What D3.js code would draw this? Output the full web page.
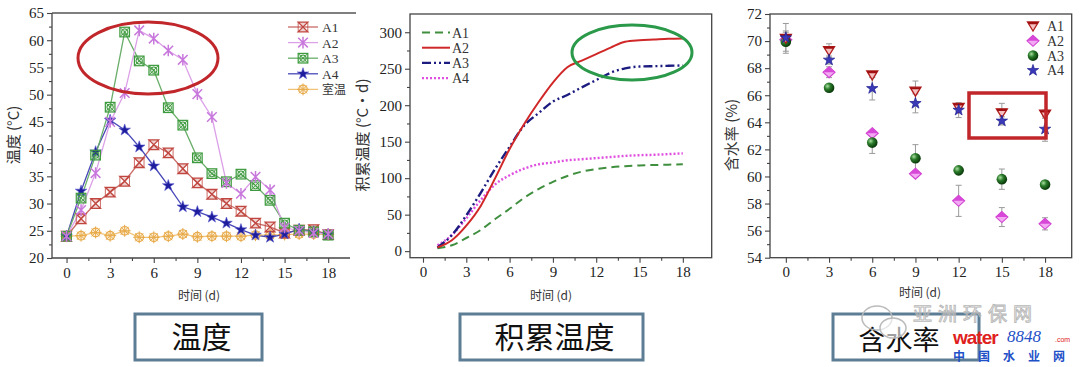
<!DOCTYPE html>
<html><head><meta charset="utf-8">
<script src="https://cdn.jsdelivr.net/npm/d3@7"></script>
<style>body{margin:0;background:#fff}svg{display:block}</style>
</head><body>
<svg id="c" width="1080" height="367"></svg>
<script>
// ---------- DATA ----------
const days = d3.range(0, 19);
const tickDays = [0, 3, 6, 9, 12, 15, 18];
const tempA1 = [24.0,27.2,30.0,32.1,34.1,37.5,40.8,39.3,36.4,33.8,31.7,30.0,28.6,26.4,25.7,24.6,25.1,25.2,24.3];
const tempA2 = [24.0,28.8,35.6,45.0,50.3,61.8,60.3,58.1,56.4,50.1,45.9,33.8,31.8,34.9,32.5,25.6,25.0,24.6,24.4];
const tempA3 = [24.0,31.0,38.9,47.7,61.5,56.2,54.5,47.6,44.4,38.4,35.5,34.0,35.4,33.3,30.6,26.4,25.1,24.8,24.2];
const tempA4 = [24.0,32.3,39.5,45.3,43.5,40.4,36.9,33.3,29.4,28.5,27.5,26.4,25.2,24.2,23.8,24.4,25.3,24.8,24.3];
const tempRoom = [24.0,24.1,24.7,24.1,25.0,23.8,23.8,24.0,24.4,23.9,24.0,24.0,24.0,24.2,24.2,24.3,24.4,24.4,24.3];
const tempNames = ["A1", "A2", "A3", "A4", "室温"];
const tempTicks = [20, 25, 30, 35, 40, 45, 50, 55, 60, 65];

const cumDays = d3.range(1, 19);
const cumA1 = [4,8,18,29,44,58,73,85,95,103,109,112.5,115,116.5,117.5,118,118.5,119];
const cumA2 = [5,15,35,62,100,140,174,204,231,252,261,270,279,287,289,290,291,291.5];
const cumA3 = [5,22,49,80,113,143,172,189,205,214,224.5,234.5,244.5,250.5,253,253.5,254,254.5];
const cumA4 = [8,22,45,70,91.5,104,113,119,121.5,124.5,126,127.5,129,130.5,131.5,132,133,134];
const cumNames = ["A1", "A2", "A3", "A4"];
const cumTicks = [0, 50, 100, 150, 200, 250, 300];

const mDays = [0, 3, 6, 9, 12, 15, 18];
const mA1 = [70.2,69.3,67.5,66.3,65.1,64.7,64.6];
const mA1err = [1.1,0.5,0.2,0.75,0.3,0.7,0.3];
const mA2 = [70.1,67.7,63.2,60.2,58.2,57.0,56.5];
const mA2err = [0.3,0.4,0.2,0.2,1.15,0.7,0.45];
const mA3 = [69.95,66.55,62.5,61.35,60.45,59.8,59.4];
const mA3err = [0.7,0.2,0.8,1.0,0.15,0.75,0.2];
const mA4 = [70.25,68.6,66.5,65.4,64.9,64.1,63.5];
const mA4err = [0.5,0.3,0.85,0.7,0.55,0.3,0.9];
const mNames = ["A1", "A2", "A3", "A4"];
const mTicks = [54, 56, 58, 60, 62, 64, 66, 68, 70, 72];

const panelTitles = ["温度", "积累温度", "含水率"];
const xTitle = "时间 (d)";
const yTitles = ["温度 (°C)", "积累温度 (°C·d)", "含水率 (%)"];

// ---------- HELPERS ----------
const svg = d3.select("#c");
const SERIF = "Liberation Serif, Times New Roman, serif";
const CJK = "Noto Sans CJK SC, Noto Sans, sans-serif";
const defs = svg.append("defs");
const grad = defs.append("radialGradient").attr("id","sph").attr("cx","35%").attr("cy","35%").attr("r","65%");
grad.append("stop").attr("offset","0%").attr("stop-color","#a8e0a0");
grad.append("stop").attr("offset","45%").attr("stop-color","#2a7a2a");
grad.append("stop").attr("offset","100%").attr("stop-color","#0a3a0a");

function axes(g, x, y, xMajor, xMinor, yMajor, yMinor, x0, x1, y0, y1) {
  const ax = g.append("g").attr("transform", `translate(0,${y0})`)
    .call(d3.axisBottom(x).tickValues(xMajor).tickSize(5).tickPadding(4).tickFormat(d3.format("d")));
  const axm = g.append("g").attr("transform", `translate(0,${y0})`)
    .call(d3.axisBottom(x).tickValues(xMinor).tickSize(3).tickFormat(""));
  const ay = g.append("g").attr("transform", `translate(${x0},0)`)
    .call(d3.axisLeft(y).tickValues(yMajor).tickSize(5).tickPadding(3).tickFormat(d3.format("d")));
  const aym = g.append("g").attr("transform", `translate(${x0},0)`)
    .call(d3.axisLeft(y).tickValues(yMinor).tickSize(3).tickFormat(""));
  [ax, axm, ay, aym].forEach(a => {
    a.attr("font-family", SERIF).attr("font-size", 15);
    a.select(".domain").remove();
    a.selectAll("line").attr("stroke", "#444").attr("stroke-width", 1.1);
    a.selectAll("text").attr("font-family", SERIF).attr("font-size", 15).attr("fill", "#222");
  });
}

function mk(g, type, color, cx, cy) {
  const m = g.append("g").attr("transform", `translate(${cx},${cy})`);
  const s = 4.8;
  if (type === 0) {
    m.append("path").attr("d", `M${-s},${-s}L${s},${-s}L${-s},${s}L${s},${s}Z`)
      .attr("fill", color).attr("fill-opacity", 0.25).attr("stroke", color).attr("stroke-width", 1.3);
    m.append("path").attr("d", `M${-s},${-s}L${-s},${s}M${s},${-s}L${s},${s}`)
      .attr("stroke", color).attr("stroke-width", 0.8);
  } else if (type === 1) {
    m.append("path").attr("d", `M${-s},${-s}L${s},${s}M${s},${-s}L${-s},${s}M0,${-s-1}L0,${s+1}`)
      .attr("stroke", color).attr("stroke-width", 1.5).attr("fill", "none");
  } else if (type === 2) {
    m.append("rect").attr("x", -s).attr("y", -s).attr("width", 2*s).attr("height", 2*s)
      .attr("fill", color).attr("fill-opacity", 0.15).attr("stroke", color).attr("stroke-width", 1.2);
    m.append("circle").attr("r", 3.2).attr("fill", "none").attr("stroke", color).attr("stroke-width", 1);
    m.append("path").attr("d", `M${-s},${-s}L${s},${s}M${s},${-s}L${-s},${s}`).attr("stroke", color).attr("stroke-width", 0.9);
  } else if (type === 3) {
    m.append("path").attr("d", d3.symbol(d3.symbolStar, 42)()).attr("fill", color).attr("stroke", "#5a5ad0").attr("stroke-width", 0.6);
  } else {
    m.append("circle").attr("r", 4.3).attr("fill", color).attr("fill-opacity", 0.2).attr("stroke", color).attr("stroke-width", 1.2);
    m.append("path").attr("d", `M-6,0L6,0M0,-6L0,6M-4,-4L4,4M4,-4L-4,4`).attr("stroke", color).attr("stroke-width", 1);
  }
}

// ---------- PANEL 1: temperature ----------
{
  const L = 52, R = 350, T = 13, B = 258;
  const x = d3.scaleLinear().domain([-1, 19.5]).range([L, R]);
  const y = d3.scaleLinear().domain([20, 65]).range([B, T]);
  const g = svg.append("g");
  const series = [tempA1, tempA2, tempA3, tempA4, tempRoom];
  const lineC = ["#c96a66", "#dca0e8", "#6aae6a", "#4848b8", "#f0c478"];
  const mkC = ["#c0463f", "#c878dc", "#3d9a3d", "#1c1c9c", "#e8aa48"];
  const drawOrder = [4, 0, 3, 2, 1];
  drawOrder.forEach(i => {
    g.append("path").datum(series[i])
      .attr("d", d3.line().x((d, j) => x(days[j])).y(d => y(d)))
      .attr("fill", "none").attr("stroke", lineC[i]).attr("stroke-width", 1.3);
  });
  drawOrder.forEach(i => {
    series[i].forEach((v, j) => mk(g, i, mkC[i], x(days[j]), y(v)));
  });
  axes(g, x, y, tickDays, d3.range(1.5, 19.5, 3), tempTicks, d3.range(22.5, 65, 5), L, R, B, T);
  g.append("line").attr("x1", L).attr("x2", L).attr("y1", T).attr("y2", B).attr("stroke", "#444").attr("stroke-width", 1.3);
  g.append("line").attr("x1", L).attr("x2", R).attr("y1", B).attr("y2", B).attr("stroke", "#444").attr("stroke-width", 1.3);
  g.append("line").attr("x1", L).attr("x2", 356).attr("y1", T).attr("y2", T).attr("stroke", "#555").attr("stroke-width", 1.5);
  tempNames.forEach((n, i) => {
    const ly = 27 + i * 15.6;
    g.append("line").attr("x1", 288).attr("x2", 318).attr("y1", ly).attr("y2", ly).attr("stroke", lineC[i]).attr("stroke-width", 1.3);
    mk(g, i, mkC[i], 303, ly);
    g.append("text").attr("x", 322).attr("y", ly + (i === 4 ? 4.5 : 5)).text(n)
      .attr("font-family", i === 4 ? CJK : SERIF).attr("font-size", i === 4 ? 12 : 13.5).attr("fill", "#333");
  });
  g.append("ellipse").attr("cx", 148).attr("cy", 58).attr("rx", 70).attr("ry", 36)
    .attr("fill", "none").attr("stroke", "#c0262a").attr("stroke-width", 3);
  g.append("text").attr("transform", "translate(19,135) rotate(-90)").attr("text-anchor", "middle")
    .attr("font-family", CJK).attr("font-size", 15).attr("fill", "#333").text(yTitles[0]);
  g.append("text").attr("x", 199).attr("y", 300).attr("text-anchor", "middle")
    .attr("font-family", CJK).attr("font-size", 12).attr("fill", "#333").text(xTitle);
}

// ---------- PANEL 2: cumulative temperature ----------
{
  const L = 410, R = 711.7, T = 14, B = 257.7;
  const x = d3.scaleLinear().domain([-0.9, 20]).range([L, R]);
  const y = d3.scaleLinear().domain([-9, 325]).range([B, T]);
  const g = svg.append("g");
  const series = [cumA1, cumA2, cumA3, cumA4];
  const col = ["#3f8f3f", "#d02828", "#1c1c80", "#e050e0"];
  const dash = ["8,5", null, "9,3,2,3,2,3", "2,2"];
  const wid = [2, 2, 2.4, 2.4];
  [0, 3, 2, 1].forEach(i => {
    g.append("path").datum(series[i])
      .attr("d", d3.line().curve(d3.curveMonotoneX).x((d, j) => x(cumDays[j])).y(d => y(d)))
      .attr("fill", "none").attr("stroke", col[i]).attr("stroke-width", wid[i])
      .attr("stroke-dasharray", dash[i]);
  });
  axes(g, x, y, tickDays, d3.range(1.5, 19.5, 3), cumTicks, d3.range(25, 325, 50), L, R, B, T);
  g.append("rect").attr("x", L).attr("y", T).attr("width", R - L).attr("height", B - T)
    .attr("fill", "none").attr("stroke", "#444").attr("stroke-width", 1.3);
  cumNames.forEach((n, i) => {
    const ly = 32.5 + i * 15.2;
    g.append("line").attr("x1", 422).attr("x2", 450).attr("y1", ly).attr("y2", ly)
      .attr("stroke", col[i]).attr("stroke-width", wid[i]).attr("stroke-dasharray", dash[i]);
    g.append("text").attr("x", 452).attr("y", ly + 5).text(n)
      .attr("font-family", SERIF).attr("font-size", 14).attr("fill", "#333");
  });
  g.append("ellipse").attr("cx", 632).attr("cy", 52.5).attr("rx", 60).attr("ry", 27.5)
    .attr("fill", "none").attr("stroke", "#2a9a4a").attr("stroke-width", 3);
  g.append("text").attr("transform", "translate(368,135) rotate(-90)").attr("text-anchor", "middle")
    .attr("font-family", CJK).attr("font-size", 15).attr("fill", "#333").text(yTitles[1]);
  g.append("text").attr("x", 551).attr("y", 300).attr("text-anchor", "middle")
    .attr("font-family", CJK).attr("font-size", 12).attr("fill", "#333").text(xTitle);
}

// ---------- PANEL 3: moisture ----------
{
  const L = 770, R = 1071.7, T = 14, B = 257.7;
  const x = d3.scaleLinear().domain([-1.1, 19.85]).range([L, R]);
  const y = d3.scaleLinear().domain([54, 72]).range([B, T]);
  const g = svg.append("g");
  const series = [mA1, mA2, mA3, mA4];
  const errs = [mA1err, mA2err, mA3err, mA4err];
  series.forEach((s, i) => {
    s.forEach((v, j) => {
      const cx = x(mDays[j]), e = errs[i][j];
      g.append("path").attr("d", `M${cx},${y(v - e)}L${cx},${y(v + e)}M${cx - 3},${y(v - e)}L${cx + 3},${y(v - e)}M${cx - 3},${y(v + e)}L${cx + 3},${y(v + e)}`)
        .attr("stroke", "#9a9a9a").attr("stroke-width", 1).attr("fill", "none");
    });
  });
  function mk3(i, cx, cy) {
    const m = g.append("g").attr("transform", `translate(${cx},${cy})`);
    if (i === 0) {
      m.append("path").attr("d", "M-5.5,-4L5.5,-4L0,5Z").attr("fill", "#f4c0c0").attr("stroke", "#b01c1c").attr("stroke-width", 1.3);
      m.append("path").attr("d", "M-5.5,-4L5.5,-4L4.2,-1.8L-4.2,-1.8Z").attr("fill", "#a01010");
    } else if (i === 1) {
      m.append("path").attr("d", "M0,-5.5L6,0L0,5.5L-6,0Z").attr("fill", "#f2a8f2").attr("stroke", "#d040d0").attr("stroke-width", 1.1);
      m.append("path").attr("d", "M0,-5.5L6,0L-6,0Z").attr("fill", "#d848d8");
    } else if (i === 2) {
      m.append("circle").attr("r", 5.3).attr("fill", "url(#sph)");
    } else {
      m.append("path").attr("d", d3.symbol(d3.symbolStar, 40)()).attr("fill", "#3a3ab8").attr("stroke", "#1c1c90").attr("stroke-width", 0.7);
    }
  }
  [1, 2, 0, 3].forEach(i => series[i].forEach((v, j) => mk3(i, x(mDays[j]), y(v))));
  axes(g, x, y, tickDays, d3.range(1.5, 19.5, 3), mTicks, d3.range(55, 72, 2), L, R, B, T);
  g.append("rect").attr("x", L).attr("y", T).attr("width", R - L).attr("height", B - T)
    .attr("fill", "none").attr("stroke", "#444").attr("stroke-width", 1.3);
  mNames.forEach((n, i) => {
    const ly = 26 + i * 14.8;
    mk3(i, 1033, ly);
    g.append("text").attr("x", 1047).attr("y", ly + 5).text(n)
      .attr("font-family", SERIF).attr("font-size", 14).attr("fill", "#333");
  });
  g.append("rect").attr("x", 969).attr("y", 93).attr("width", 77).attr("height", 45)
    .attr("fill", "none").attr("stroke", "#c0262a").attr("stroke-width", 3.5);
  g.append("text").attr("transform", "translate(737,135) rotate(-90)").attr("text-anchor", "middle")
    .attr("font-family", CJK).attr("font-size", 15).attr("fill", "#333").text(yTitles[2]);
  g.append("text").attr("x", 920).attr("y", 297).attr("text-anchor", "middle")
    .attr("font-family", CJK).attr("font-size", 12).attr("fill", "#333").text(xTitle);
}

// ---------- bottom labels ----------
const boxes = [[135, 262], [460, 643], [833, 979]];
const textShift = [3, 3, -7];
boxes.forEach((b, i) => {
  svg.append("rect").attr("x", b[0]).attr("y", 314).attr("width", b[1] - b[0]).attr("height", 46)
    .attr("fill", "#fff").attr("stroke", "#5d7d94").attr("stroke-width", 3);
  svg.append("text").attr("x", (b[0] + b[1]) / 2 + textShift[i]).attr("y", i === 2 ? 350 : 348).attr("text-anchor", "middle")
    .attr("font-family", CJK).attr("font-size", i === 2 ? 27 : 30).attr("fill", "#111").text(panelTitles[i]);
});

// ---------- watermark ----------
const wm = svg.append("g");
wm.append("ellipse").attr("cx", 877).attr("cy", 318).attr("rx", 15).attr("ry", 12).attr("fill", "none").attr("stroke", "#bbb").attr("stroke-width", 1.5);
wm.append("ellipse").attr("cx", 893).attr("cy", 328).attr("rx", 13).attr("ry", 10).attr("fill", "rgba(255,255,255,0.6)").attr("stroke", "#bbb").attr("stroke-width", 1.5);
wm.append("text").attr("x", 913).attr("y", 321).attr("font-family", CJK).attr("font-size", 19)
  .attr("fill", "none").attr("stroke", "#b8b8b8").attr("stroke-width", 0.9).attr("letter-spacing", 6).text("亚洲环保网");
wm.append("text").attr("x", 953).attr("y", 344).attr("font-family", "Liberation Sans, Arial, sans-serif").attr("font-weight", "bold")
  .attr("font-size", 19).attr("fill", "#e0201c").attr("letter-spacing", -1).text("water");
wm.append("text").attr("x", 1007).attr("y", 342).attr("font-family", SERIF).attr("font-style", "italic")
  .attr("font-size", 17).attr("fill", "#1e50c8").text("8848");
wm.append("text").attr("x", 1055).attr("y", 342).attr("font-family", "Liberation Sans, Arial, sans-serif")
  .attr("font-size", 7).attr("fill", "#e0201c").text(".com");
wm.append("text").attr("x", 953).attr("y", 361).attr("font-family", CJK).attr("font-weight", "bold")
  .attr("font-size", 12).attr("fill", "#1e50c8").attr("letter-spacing", 13).text("中国水业网");
</script>
</body></html>
